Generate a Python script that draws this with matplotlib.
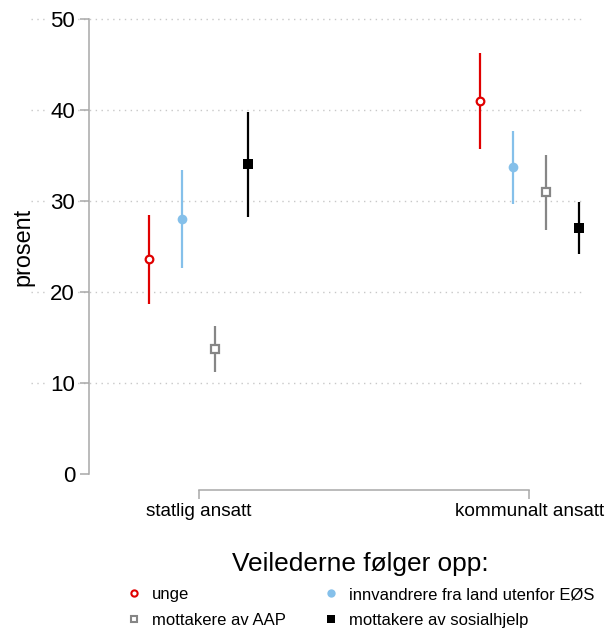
import numpy as np
import matplotlib.pyplot as plt
from matplotlib.lines import Line2D

plt.rcParams['font.family'] = ['Liberation Sans', 'DejaVu Sans']

# andel (prosent) med 95 % konfidensintervall
grupper = ['statlig ansatt', 'kommunalt ansatt']
serier = ['unge', 'mottakere av AAP', 'innvandrere fra land utenfor EØS', 'mottakere av sosialhjelp']

unge = [23.6, 41.0]
unge_lav = [18.7, 35.7]
unge_hoy = [28.5, 46.3]

innv = [28.0, 33.7]
innv_lav = [22.6, 29.7]
innv_hoy = [33.4, 37.7]

aap = [13.7, 31.0]
aap_lav = [11.2, 26.8]
aap_hoy = [16.3, 35.1]

sosial = [34.1, 27.0]
sosial_lav = [28.2, 24.2]
sosial_hoy = [39.8, 29.9]

rod = '#e00000'
bla = '#85c0ea'
gra = '#868686'
svart = '#000000'

fig = plt.figure(figsize=(6.06, 6.31), dpi=100)
ax = fig.add_axes([89 / 606, 157 / 631, 501 / 606, 455 / 631])

x = np.arange(len(grupper))


def tegn(offset, verdi, lav, hoy, farge, marker, fylt, ms):
    verdi = np.array(verdi)
    err = [verdi - np.array(lav), np.array(hoy) - verdi]
    ax.errorbar(x + offset, verdi, yerr=err, fmt='none', ecolor=farge,
                elinewidth=1.6, capsize=0, zorder=3, clip_on=False)
    ax.plot(x + offset, verdi, linestyle='none', marker=marker, ms=ms,
            markeredgecolor=farge, markerfacecolor=farge if fylt else 'white',
            markeredgewidth=1.6 if not fylt else 0, zorder=4, clip_on=False)


tegn(-0.15, unge, unge_lav, unge_hoy, rod, 'o', False, 5.5)
tegn(-0.05, innv, innv_lav, innv_hoy, bla, 'o', True, 7)
tegn(0.05, aap, aap_lav, aap_hoy, gra, 's', False, 5.5)
tegn(0.15, sosial, sosial_lav, sosial_hoy, svart, 's', True, 7)

ax.set_xlim(-0.331, 1.183)
ax.set_ylim(0, 50)

# stiplede hjelpelinjer, også til venstre for aksen
for yv in [10, 20, 30, 40, 50]:
    ax.plot([-0.115, 0.99], [yv, yv], transform=ax.get_yaxis_transform(),
            color='#c8c8c8', lw=1, linestyle=(0, (1, 3.2)), zorder=1,
            clip_on=False)

for side in ['top', 'right']:
    ax.spines[side].set_visible(False)
ax.spines['left'].set_color('#a8a8a8')
ax.spines['left'].set_linewidth(1.1)
ax.spines['bottom'].set_color('#a8a8a8')
ax.spines['bottom'].set_linewidth(1.1)
ax.spines['bottom'].set_position(('outward', 11.5))
ax.spines['bottom'].set_bounds(0, 1)

ax.set_yticks([0, 10, 20, 30, 40, 50])
ax.tick_params(axis='y', length=6.5, width=1.1, color='#a8a8a8', pad=3.5,
               labelsize=16)
for lab in ax.get_yticklabels():
    lab.set_bbox(dict(facecolor='white', edgecolor='none', pad=1.5))
    lab.set_zorder(5)

ax.set_xticks(x)
ax.set_xticklabels(grupper)
ax.tick_params(axis='x', length=6.5, width=1.1, color='#a8a8a8', pad=3,
               labelsize=13.7)

ax.set_ylabel('prosent', fontsize=16.8)
ax.yaxis.set_label_coords(-0.108, 0.5)

handles = [
    Line2D([], [], linestyle='none', marker='o', ms=4.5, markeredgewidth=1.5,
           markeredgecolor=rod, markerfacecolor='white'),
    Line2D([], [], linestyle='none', marker='s', ms=4.5, markeredgewidth=1.5,
           markeredgecolor=gra, markerfacecolor='white'),
    Line2D([], [], linestyle='none', marker='o', ms=6, markeredgewidth=0,
           markerfacecolor=bla),
    Line2D([], [], linestyle='none', marker='s', ms=6, markeredgewidth=0,
           markerfacecolor=svart),
]
leg = fig.legend(handles, serier, ncol=2, loc='upper center',
                 bbox_to_anchor=(360 / 606, 1 - 537 / 631), frameon=False,
                 fontsize=12, title='Veilederne følger opp:',
                 title_fontsize=18.9, handlelength=1.0, handletextpad=0.58,
                 columnspacing=2.2, labelspacing=0.66)

fig.savefig('out.png', dpi=100)
